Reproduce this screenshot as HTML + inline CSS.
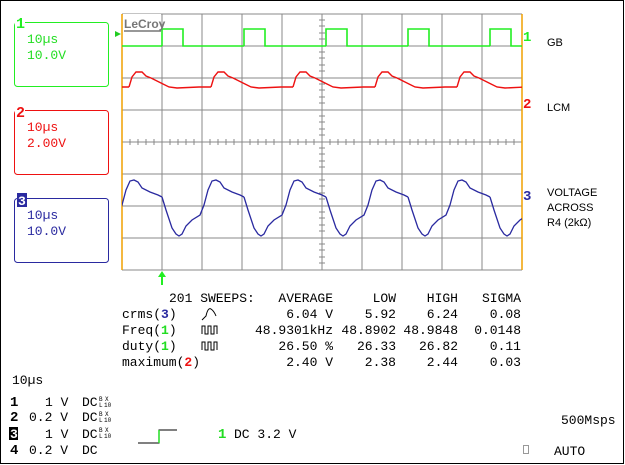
<!DOCTYPE html>
<html><head><meta charset="utf-8"><style>
html,body{margin:0;padding:0;background:#fff;}
svg{display:block;font-family:"Liberation Mono",monospace;}
</style></head><body>
<svg width="625" height="465" viewBox="0 0 625 465" xmlns="http://www.w3.org/2000/svg">
<rect x="0.5" y="0.5" width="623" height="463" fill="#fff" stroke="#000" stroke-width="1"/>
<defs>
<clipPath id="c"><rect x="122" y="14" width="400" height="256"/></clipPath>
<path id="g" d="M0,46 V29 H21 V46 H82" fill="none" stroke="#22ee22" stroke-width="1.6"/>
<path id="r" d="M0,87 L3,77 L7,72 L13,72 L17,76 L22,78 L28,81 L34,84 L40,87 L48,88 L70,87 L82,87" fill="none" stroke="#ee1111" stroke-width="1.4"/>
<path id="b" d="M0,197 L4,210 L10,228 L14,234 L17,236 L20,234 L24,226 L30,220 L38,215 L42,205 L46,190 L50,181 L54,180 L58,182 L62,188 L70,192 L78,195 L82,197" fill="none" stroke="#2a2aa0" stroke-width="1.3"/>
</defs>
<g stroke="#888" stroke-width="1">
<path d="M162,14V270M202,14V270M242,14V270M282,14V270M322,14V270M362,14V270M402,14V270M442,14V270M482,14V270"/>
<path d="M122,14H522M122,46H522M122,78H522M122,110H522M122,142H522M122,174H522M122,206H522M122,238H522M122,270H522"/>
<path d="M130,139V145M138,139V145M146,139V145M154,139V145M170,139V145M178,139V145M186,139V145M194,139V145M210,139V145M218,139V145M226,139V145M234,139V145M250,139V145M258,139V145M266,139V145M274,139V145M290,139V145M298,139V145M306,139V145M314,139V145M330,139V145M338,139V145M346,139V145M354,139V145M370,139V145M378,139V145M386,139V145M394,139V145M410,139V145M418,139V145M426,139V145M434,139V145M450,139V145M458,139V145M466,139V145M474,139V145M490,139V145M498,139V145M506,139V145M514,139V145"/>
<path d="M319,20H325M319,26H325M319,33H325M319,39H325M319,52H325M319,58H325M319,65H325M319,71H325M319,84H325M319,90H325M319,97H325M319,103H325M319,116H325M319,122H325M319,129H325M319,135H325M319,148H325M319,154H325M319,161H325M319,167H325M319,180H325M319,186H325M319,193H325M319,199H325M319,212H325M319,218H325M319,225H325M319,231H325M319,244H325M319,250H325M319,257H325M319,263H325"/>
</g>
<line x1="122" y1="14" x2="122" y2="270" stroke="#f0a000" stroke-width="1.5"/>
<line x1="522" y1="14" x2="522" y2="270" stroke="#f0a000" stroke-width="1.5"/>
<g clip-path="url(#c)">
<use href="#g" x="80"/><use href="#g" x="162"/><use href="#g" x="244"/><use href="#g" x="326"/><use href="#g" x="408"/><use href="#g" x="490"/>
<use href="#r" x="47"/><use href="#r" x="129"/><use href="#r" x="211"/><use href="#r" x="293"/><use href="#r" x="375"/><use href="#r" x="457"/>
<use href="#b" x="80"/><use href="#b" x="162"/><use href="#b" x="244"/><use href="#b" x="326"/><use href="#b" x="408"/><use href="#b" x="490"/>
</g>
<rect x="123" y="14" width="38" height="20" fill="#fff"/>
<text x="124" y="28" font-family="Liberation Sans,sans-serif" font-weight="bold" font-size="12" fill="#777">LeCroy</text>
<line x1="124" y1="31" x2="161" y2="31" stroke="#777" stroke-width="1.5"/>
<path d="M115,31 L121,34 L115,37Z" fill="#22cc22"/>
<path d="M162,271 L158,277 H161 V285 H163 V277 H166Z" fill="#22ee22"/>
<rect x="14.5" y="22.5" width="94" height="64" rx="3" fill="none" stroke="#22ee22"/>
<rect x="14.5" y="110.5" width="94" height="64" rx="3" fill="none" stroke="#ee1111"/>
<rect x="14.5" y="198.5" width="94" height="64" rx="3" fill="none" stroke="#2a2aa0"/>
<rect x="15" y="15" width="10" height="14" fill="#fff"/><text x="16" y="28" font-size="15" font-weight="bold" fill="#22ee22">1</text>
<rect x="15" y="103" width="10" height="14" fill="#fff"/><text x="16" y="117" font-size="15" font-weight="bold" fill="#ee1111">2</text>
<rect x="17" y="193" width="10" height="14" fill="#2a2aa0"/><text x="18" y="205" font-size="13" font-weight="bold" fill="#fff">3</text>
<g font-size="13">
<text x="27" y="43" fill="#22dd22">10µs</text><text x="27" y="59" fill="#22dd22">10.0V</text>
<text x="27" y="131" fill="#ee1111">10µs</text><text x="27" y="147" fill="#ee1111">2.00V</text>
<text x="27" y="219" fill="#2a2aa0">10µs</text><text x="27" y="235" fill="#2a2aa0">10.0V</text>
</g>
<text x="523" y="41" font-size="14" font-weight="bold" fill="#22ee22">1</text>
<text x="523" y="108" font-size="14" font-weight="bold" fill="#ee1111">2</text>
<text x="523" y="200" font-size="14" font-weight="bold" fill="#2a2aa0">3</text>
<g font-family="Liberation Sans,sans-serif" font-size="11" fill="#000">
<text x="547" y="46">GB</text><text x="547" y="111">LCM</text>
<text x="547" y="196">VOLTAGE</text><text x="547" y="211">ACROSS</text><text x="547" y="226">R4 (2kΩ)</text>
</g>
<g font-size="13" fill="#000">
<text x="169" y="302">201 SWEEPS:</text>
<text x="333" y="302" text-anchor="end">AVERAGE</text><text x="396" y="302" text-anchor="end">LOW</text><text x="458" y="302" text-anchor="end">HIGH</text><text x="521" y="302" text-anchor="end">SIGMA</text>
<text x="122" y="318">crms(<tspan fill="#2a2aa0" font-weight="bold">3</tspan>)</text>
<text x="122" y="334">Freq(<tspan fill="#22dd22" font-weight="bold">1</tspan>)</text>
<text x="122" y="350">duty(<tspan fill="#22dd22" font-weight="bold">1</tspan>)</text>
<text x="122" y="366">maximum(<tspan fill="#ee1111" font-weight="bold">2</tspan>)</text>
<text x="333" y="318" text-anchor="end">6.04 V</text><text x="396" y="318" text-anchor="end">5.92</text><text x="458" y="318" text-anchor="end">6.24</text><text x="521" y="318" text-anchor="end">0.08</text>
<text x="333" y="334" text-anchor="end">48.9301kHz</text><text x="396" y="334" text-anchor="end">48.8902</text><text x="458" y="334" text-anchor="end">48.9848</text><text x="521" y="334" text-anchor="end">0.0148</text>
<text x="333" y="350" text-anchor="end">26.50 %</text><text x="396" y="350" text-anchor="end">26.33</text><text x="458" y="350" text-anchor="end">26.82</text><text x="521" y="350" text-anchor="end">0.11</text>
<text x="333" y="366" text-anchor="end">2.40 V</text><text x="396" y="366" text-anchor="end">2.38</text><text x="458" y="366" text-anchor="end">2.44</text><text x="521" y="366" text-anchor="end">0.03</text>
<text x="12" y="384">10µs</text>
<text x="10" y="406" font-weight="bold" font-size="14">1</text><text x="45" y="406">1 V</text><text x="82" y="406">DC</text>
<text x="10" y="421" font-weight="bold" font-size="14">2</text><text x="29" y="421">0.2 V</text><text x="82" y="421">DC</text>
<rect x="9" y="427" width="9" height="13" fill="#000"/><text x="10" y="438" font-weight="bold" fill="#fff">3</text><text x="45" y="438">1 V</text><text x="82" y="438">DC</text>
<text x="10" y="454" font-weight="bold" font-size="14">4</text><text x="29" y="454">0.2 V</text><text x="82" y="454">DC</text>
<text x="234" y="438">DC 3.2 V</text>
<text x="561" y="424">500Msps</text>
<text x="554" y="455">AUTO</text>
</g>
<g font-size="6" fill="#000">
<text x="99" y="401">B</text><text x="105" y="401">X</text><text x="99" y="407">L</text><text x="104" y="407">10</text>
<text x="99" y="416">B</text><text x="105" y="416">X</text><text x="99" y="422">L</text><text x="104" y="422">10</text>
<text x="99" y="432">B</text><text x="105" y="432">X</text><text x="99" y="438">L</text><text x="104" y="438">10</text>
</g>
<path d="M202,320 L206,316 Q208,307 211,309 Q214,311 216,316" fill="none" stroke="#000"/>
<path d="M202,334 V326 H205 V334 H208 V326 H211 V334 H214 V326 H217 V334" fill="none" stroke="#000"/>
<path d="M202,350 V342 H205 V350 H208 V342 H211 V350 H214 V342 H217 V350" fill="none" stroke="#000"/>
<text x="218" y="438" font-size="14" font-weight="bold" fill="#22dd22">1</text>
<path d="M138,443 H159 V430 H177" fill="none" stroke="#000"/>
<path d="M159,443 V430" stroke="#22dd22" stroke-width="1.5"/>
<rect x="523.5" y="445.5" width="5" height="8" fill="none" stroke="#999"/>
</svg>
</body></html>
